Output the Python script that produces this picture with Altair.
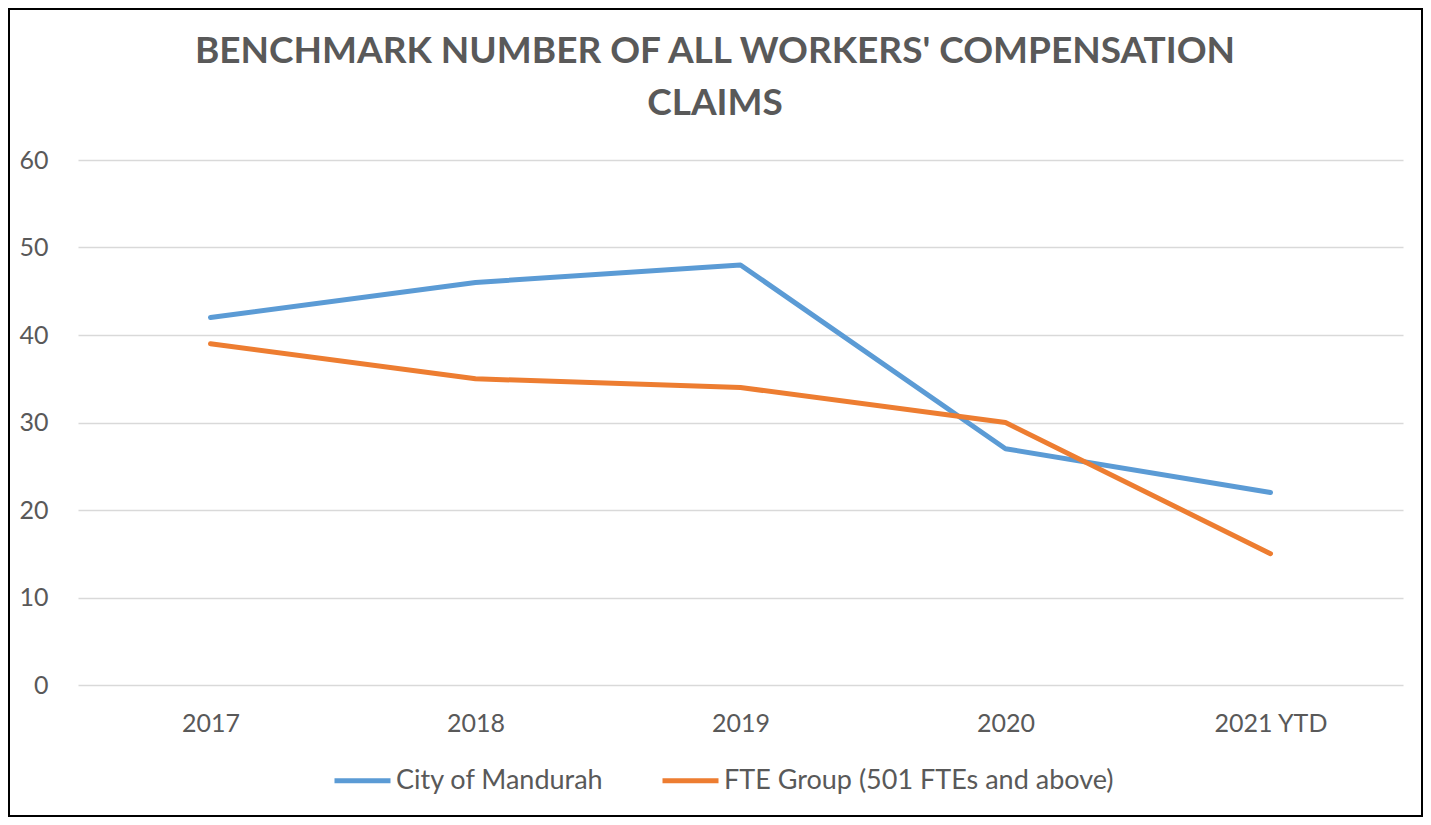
import altair as alt
import pandas as pd

years = ["2017", "2018", "2019", "2020", "2021 YTD"]
city = [42, 46, 48, 27, 22]
fte = [39, 35, 34, 30, 15]
series_names = ["City of Mandurah", "FTE Group (501 FTEs and above)"]
y_ticks = [0, 10, 20, 30, 40, 50, 60]
title_lines = ["BENCHMARK NUMBER OF ALL WORKERS' COMPENSATION", "CLAIMS"]

rows = []
for i, yr in enumerate(years):
    rows.append({"year": yr, "series": series_names[0], "value": city[i]})
    rows.append({"year": yr, "series": series_names[1], "value": fte[i]})
df = pd.DataFrame(rows)

W, H = 1325, 525
FONT = "Lato"
GREY = "#595959"

lines = alt.Chart(df).mark_line(strokeWidth=5, strokeCap="round", strokeJoin="round").encode(
    x=alt.X("year:N", sort=years,
            scale=alt.Scale(type="point", padding=0.5),
            axis=alt.Axis(title=None, labelAngle=0, ticks=False, domain=False,
                          labelFontSize=25, labelFont=FONT, labelColor=GREY,
                          labelPadding=26, grid=False)),
    y=alt.Y("value:Q", scale=alt.Scale(domain=[0, 60], nice=False),
            axis=alt.Axis(title=None, values=y_ticks, ticks=False, domain=False,
                          labelFontSize=25, labelFont=FONT, labelColor=GREY,
                          labelPadding=30, grid=True, gridColor="#D9D9D9",
                          gridWidth=1.5)),
    color=alt.Color("series:N", sort=series_names,
                    scale=alt.Scale(domain=series_names, range=["#5B9BD5", "#ED7D31"]),
                    legend=alt.Legend(title=None, orient="none", legendX=254, legendY=590,
                                      direction="horizontal", symbolType="stroke",
                                      symbolSize=3136, symbolStrokeWidth=5,
                                      labelFontSize=27, labelFont=FONT, labelColor=GREY,
                                      labelLimit=800, labelOffset=3, columnPadding=48)),
    order=alt.Order("series:N")
)

title_df = pd.DataFrame({"line": title_lines, "ypos": [-97, -45]})
title = alt.Chart(title_df).mark_text(
    font=FONT, fontSize=37, fontWeight="bold", color=GREY,
    align="center", baseline="alphabetic"
).encode(
    x=alt.value(637),
    y=alt.Y("ypos:Q", scale=None),
    text="line:N"
)

border = alt.Chart(pd.DataFrame({"a": [0]})).mark_rect(
    fillOpacity=0, stroke="#000000", strokeWidth=2
).encode(
    x=alt.value(-69), x2=alt.value(W + 19),
    y=alt.value(-151), y2=alt.value(H + 131)
)

chart = alt.layer(border, lines, title).properties(
    width=W, height=H,
    padding={"left": 70, "top": 152, "right": 20, "bottom": 132},
    autosize=alt.AutoSizeParams(type="none"),
    background="white"
).configure_view(stroke=None)

chart.save("out.html", embed_options={"renderer": "svg", "actions": False})
